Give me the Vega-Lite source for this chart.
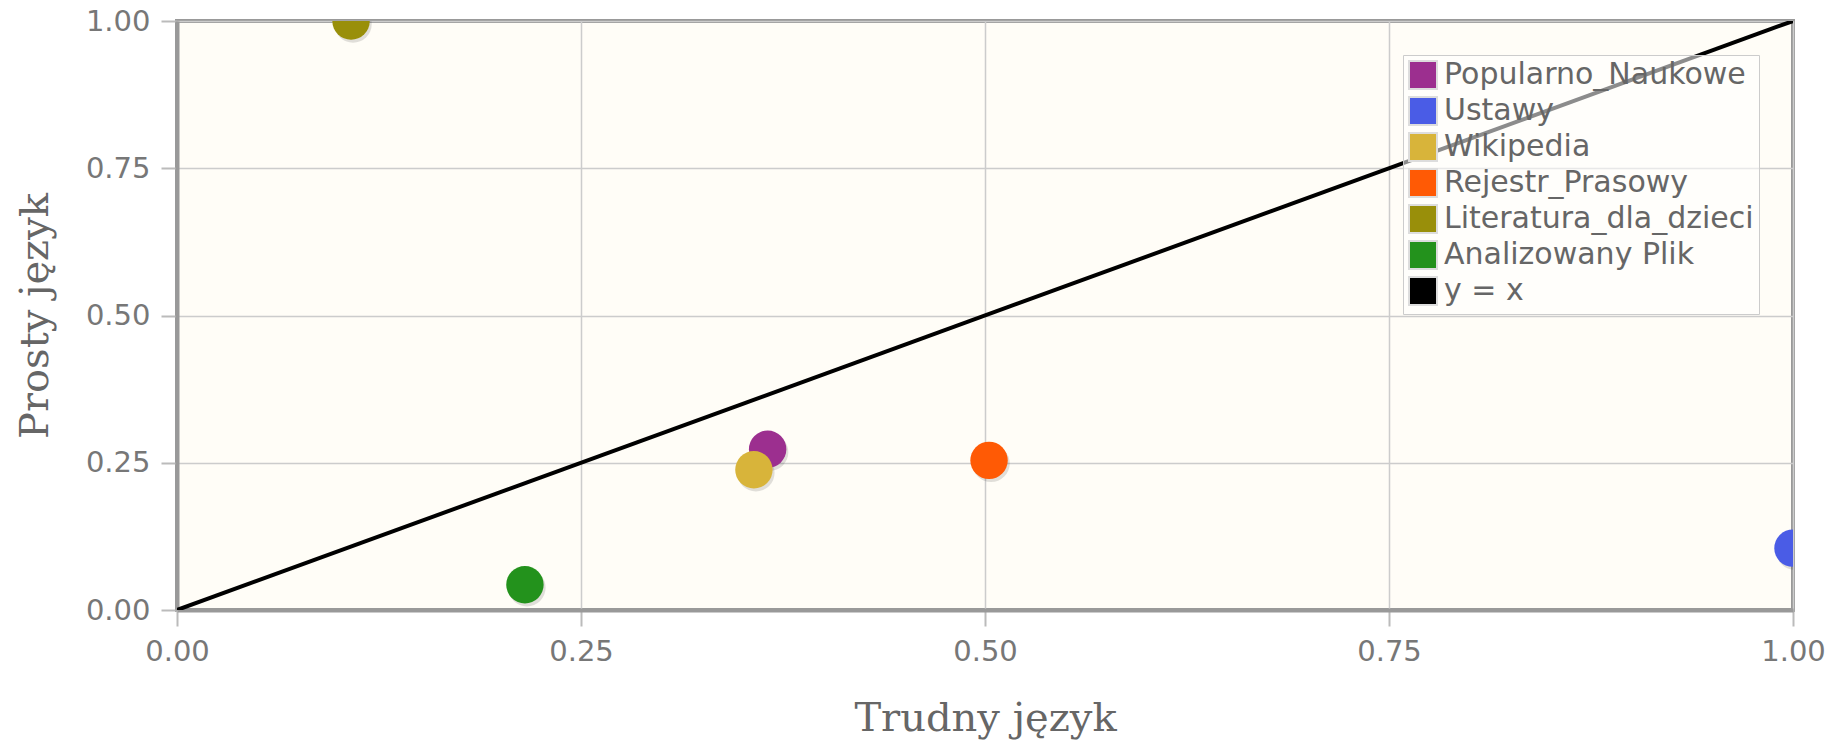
{
  "$schema": "https://vega.github.io/schema/vega-lite/v6.json",
  "width": 1616,
  "height": 589,
  "autosize": {"type": "none"},
  "padding": {"left": 177, "top": 21, "right": 44, "bottom": 139},
  "background": "white",
  "config": {
    "view": {"fill": "#FFFDF7", "stroke": "#999999", "strokeWidth": 4},
    "axis": {
      "domainColor": "#999999",
      "domainWidth": 4,
      "tickColor": "#bbbbbb",
      "tickWidth": 2,
      "tickSize": 16,
      "gridColor": "#cccccc",
      "gridWidth": 1.5,
      "labelFont": "DejaVu Sans",
      "labelFontSize": 29,
      "labelColor": "#777777",
      "labelPadding": 11,
      "labelFlush": false,
      "labelOverlap": false,
      "titleFont": "DejaVu Serif",
      "titleFontSize": 40,
      "titleFontWeight": "normal",
      "titleColor": "#666666"
    }
  },
  "datasets": {
    "points": [
      {"series": "Popularno_Naukowe", "x": 0.3655, "y": 0.273},
      {"series": "Ustawy", "x": 1.0, "y": 0.105},
      {"series": "Wikipedia", "x": 0.357, "y": 0.238},
      {"series": "Rejestr_Prasowy", "x": 0.5025, "y": 0.254},
      {"series": "Literatura_dla_dzieci", "x": 0.1077, "y": 1.0},
      {"series": "Analizowany Plik", "x": 0.2153, "y": 0.043}
    ],
    "diag": [
      {"x": 0, "y": 0},
      {"x": 1, "y": 1}
    ]
  },
  "encoding": {
    "x": {
      "field": "x",
      "type": "quantitative",
      "scale": {"domain": [0, 1], "nice": false, "zero": false},
      "axis": {
        "title": "Trudny język",
        "values": [0, 0.25, 0.5, 0.75, 1],
        "format": ".2f",
        "titleX": 808,
        "titleY": 108,
        "titleAlign": "center",
        "titleBaseline": "middle"
      }
    },
    "y": {
      "field": "y",
      "type": "quantitative",
      "scale": {"domain": [0, 1], "nice": false, "zero": false},
      "axis": {
        "title": "Prosty język",
        "values": [0, 0.25, 0.5, 0.75, 1],
        "format": ".2f",
        "titleX": -142,
        "titleY": 294.5,
        "titleAngle": 270,
        "titleAlign": "center",
        "titleBaseline": "middle"
      }
    }
  },
  "layer": [
    {
      "data": {"name": "points"},
      "mark": {"type": "circle", "size": 1400, "color": "#000000", "opacity": 0.12, "xOffset": 2, "yOffset": 3, "clip": true},
      "encoding": {}
    },
    {
      "data": {"name": "points"},
      "mark": {"type": "circle", "size": 1400, "opacity": 1, "clip": true},
      "encoding": {
        "color": {
          "field": "series",
          "type": "nominal",
          "sort": null,
          "scale": {
            "domain": ["Popularno_Naukowe", "Ustawy", "Wikipedia", "Rejestr_Prasowy", "Literatura_dla_dzieci", "Analizowany Plik", "y = x"],
            "range": ["#9C2F8F", "#4A5CE6", "#D8B43A", "#FF5A05", "#998F0A", "#23921C", "#000000"]
          },
          "legend": {
            "title": null,
            "orient": "none",
            "legendX": 1226,
            "legendY": 34,
            "symbolType": "square",
            "symbolSize": 784,
            "symbolStrokeColor": "#dddddd",
            "symbolStrokeWidth": 2,
            "symbolOpacity": 1,
            "labelFont": "DejaVu Sans",
            "labelFontSize": 30,
            "labelColor": "#666666",
            "labelOffset": 6,
            "labelLimit": 500,
            "rowPadding": 0,
            "padding": 5,
            "strokeColor": "#cccccc",
            "fillColor": "rgba(255,255,255,0.55)"
          }
        }
      }
    },
    {
      "data": {"name": "diag"},
      "mark": {"type": "line", "color": "#000000", "strokeWidth": 4, "clip": true},
      "encoding": {}
    }
  ]
}
